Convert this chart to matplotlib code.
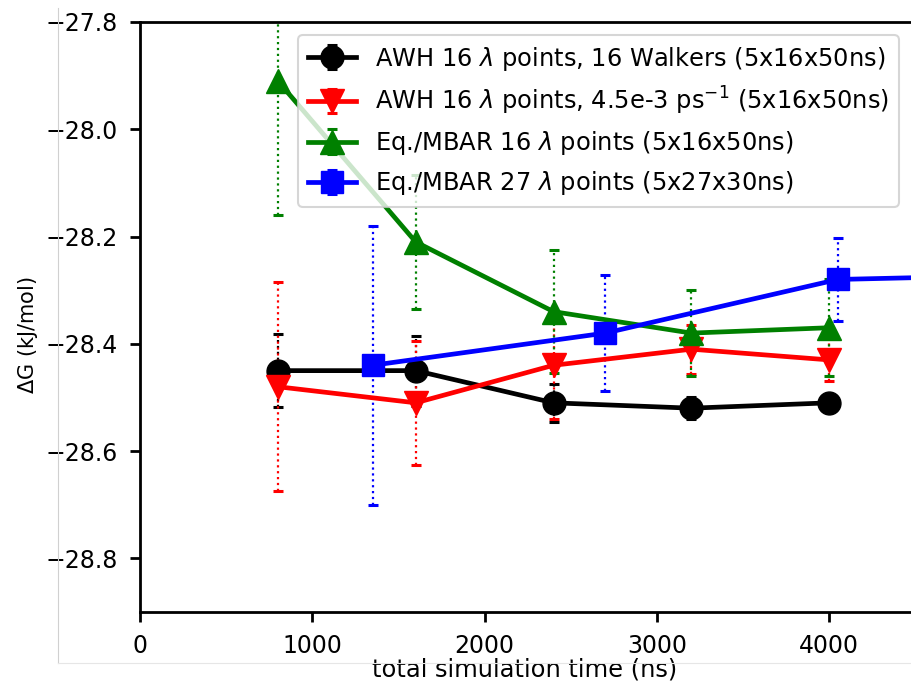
import matplotlib
matplotlib.use("Agg")
import matplotlib.pyplot as plt
from matplotlib.lines import Line2D

# ---- data ----
t16 = [800, 1600, 2400, 3200, 4000]
t27 = [1350, 2700, 4050, 5400]

awh_walkers = [-28.45, -28.45, -28.51, -28.52, -28.51]
awh_walkers_err = [0.068, 0.065, 0.036, 0.02, 0.015]

awh_rate = [-28.48, -28.51, -28.44, -28.41, -28.43]
awh_rate_err = [0.195, 0.115, 0.10, 0.046, 0.04]

mbar16 = [-27.91, -28.21, -28.34, -28.38, -28.37]
mbar16_err = [0.25, 0.125, 0.115, 0.08, 0.09]

mbar27 = [-28.44, -28.38, -28.28, -28.27]
mbar27_err = [0.26, 0.108, 0.077, 0.08]

xticks = [0, 1000, 2000, 3000, 4000]
yticks = [-28.8, -28.6, -28.4, -28.2, -28.0, -27.8]

labels = [
    r"AWH 16 $\lambda$ points, 16 Walkers (5x16x50ns)",
    r"AWH 16 $\lambda$ points, 4.5e-3 ps$^{-1}$ (5x16x50ns)",
    r"Eq./MBAR 16 $\lambda$ points (5x16x50ns)",
    r"Eq./MBAR 27 $\lambda$ points (5x27x30ns)",
]

W, H = 912, 682
fig = plt.figure(figsize=(W / 100, H / 100), dpi=100)
px_per_ns = 172.3 / 1000
xmax = 5500
ax_w = xmax * px_per_ns
ax = fig.add_axes([140 / W, 70 / H, ax_w / W, 590 / H])

series = [
    (t16, awh_walkers, awh_walkers_err, "k", "o", 16.5),
    (t16, awh_rate, awh_rate_err, "r", "v", 17),
    (t16, mbar16, mbar16_err, "g", "^", 17),
    (t27, mbar27, mbar27_err, "b", "s", 16.5),
]

for (x, y, e, c, m, ms), lab in zip(series, labels):
    eb = ax.errorbar(x, y, yerr=e, color=c, marker=m, markersize=ms, lw=3.4,
                     elinewidth=1.6, capsize=3.6, capthick=2.2, label=lab)
    eb[-1][0].set_linestyle(":")

ax.set_xlim(0, xmax)
ax.set_ylim(-28.9, -27.8)
ax.set_xticks(xticks)
ax.set_yticks(yticks)
ax.tick_params(labelsize=17, length=7, width=2, pad=9)
for s in ax.spines.values():
    s.set_linewidth(2)

ax.set_xlabel("total simulation time (ns)", fontsize=17.4)
ax.xaxis.set_label_coords((525 - 140) / ax_w, (612 - 658) / 590)
ax.set_ylabel(r"$\Delta$G (kJ/mol)", fontsize=15)
ax.yaxis.set_label_coords((40 - 140) / ax_w, (612 - 335) / 590)

leg = ax.legend(loc="upper left", bbox_to_anchor=(298 / W, 1 - 35 / H),
                bbox_transform=fig.transFigure, borderaxespad=0,
                fontsize=17.4, labelspacing=0.5, handlelength=2.0,
                handletextpad=0.8, framealpha=0.8)
leg.get_frame().set_linewidth(1.5)

# light grey crop frame visible in the reference
fig.add_artist(Line2D([58 / W, 58 / W], [1 - 663 / H, 1 - 8 / H], color="#d0d0d0", lw=0.8))
fig.add_artist(Line2D([58 / W, 1], [1 - 663 / H, 1 - 663 / H], color="#e6e6e6", lw=0.8))

fig.savefig("out.png", dpi=100)
